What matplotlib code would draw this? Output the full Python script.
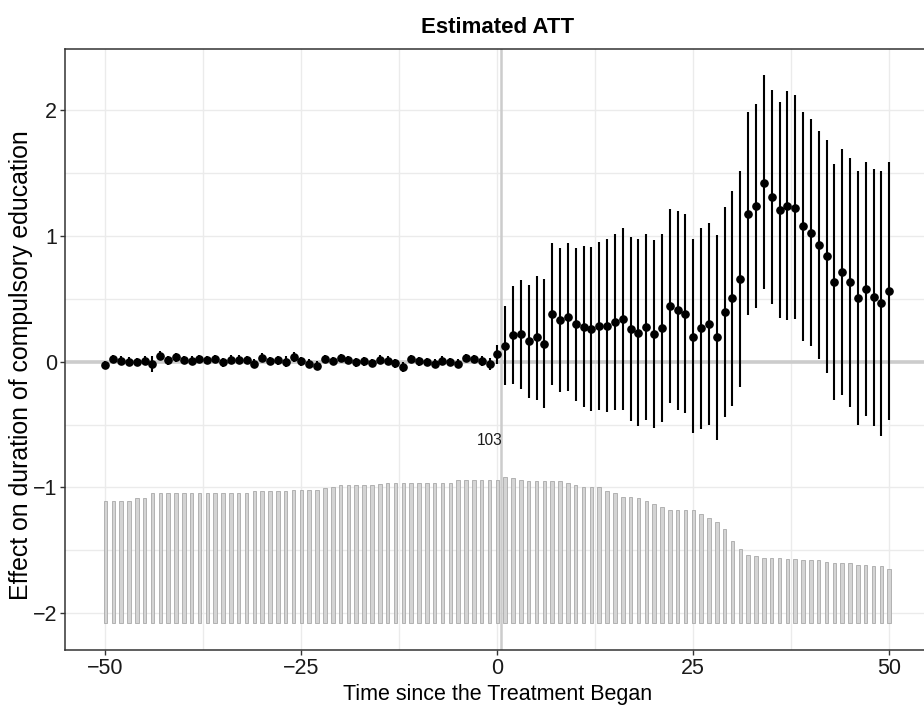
import numpy as np
import matplotlib.pyplot as plt

plt.rcParams['font.family'] = ['Liberation Sans', 'DejaVu Sans']

# time relative to treatment
time = np.arange(-50, 51)

att = [-0.027, 0.021, 0.008, 0.0, -0.003, 0.008, -0.019, 0.048, 0.011, 0.034,
       0.013, 0.008, 0.021, 0.013, 0.021, -0.005, 0.016, 0.016, 0.013, -0.016,
       0.032, 0.005, 0.011, 0.0, 0.037, 0.003, -0.016, -0.032, 0.021, 0.005,
       0.029, 0.013, -0.005, 0.003, -0.011, 0.016, 0.008, -0.013, -0.045, 0.021,
       0.003, -0.003, -0.016, 0.008, -0.003, -0.016, 0.029, 0.021, 0.003, -0.019,
       0.058,
       0.127, 0.21, 0.217, 0.167, 0.193, 0.143, 0.379, 0.334, 0.355, 0.297,
       0.278, 0.26, 0.284, 0.284, 0.313, 0.342, 0.26, 0.228, 0.273, 0.22,
       0.268, 0.44, 0.411, 0.382, 0.199, 0.265, 0.302, 0.193, 0.395, 0.504,
       0.66, 1.177, 1.236, 1.424, 1.31, 1.207, 1.241, 1.225, 1.077, 1.026,
       0.926, 0.838, 0.634, 0.713, 0.634, 0.504, 0.575, 0.512, 0.467, 0.562]

ci_hi = [0.008, 0.056, 0.043, 0.035, 0.032, 0.043, 0.041, 0.083, 0.046, 0.069,
         0.048, 0.043, 0.056, 0.048, 0.056, 0.030, 0.051, 0.051, 0.048, 0.022,
         0.067, 0.040, 0.046, 0.045, 0.077, 0.038, 0.019, 0.003, 0.056, 0.040,
         0.064, 0.048, 0.030, 0.038, 0.024, 0.051, 0.043, 0.022, -0.005, 0.056,
         0.038, 0.032, 0.019, 0.043, 0.032, 0.019, 0.064, 0.056, 0.043, 0.031,
         0.135,
         0.44, 0.60, 0.65, 0.613, 0.682, 0.658, 0.941, 0.907, 0.947, 0.907,
         0.917, 0.915, 0.952, 0.976, 1.016, 1.061, 0.989, 0.971, 1.013, 0.968,
         1.016, 1.215, 1.201, 1.172, 0.971, 1.063, 1.103, 1.01, 1.228, 1.36,
         1.519, 1.984, 2.05, 2.275, 2.156, 2.066, 2.148, 2.116, 1.984, 1.925,
         1.83, 1.758, 1.572, 1.687, 1.62, 1.512, 1.586, 1.533, 1.519, 1.589]

ci_lo = [-0.062, -0.014, -0.027, -0.035, -0.038, -0.027, -0.079, 0.013, -0.024, -0.001,
         -0.022, -0.027, -0.014, -0.022, -0.014, -0.040, -0.019, -0.019, -0.022, -0.054,
         -0.003, -0.030, -0.024, -0.045, -0.003, -0.032, -0.051, -0.067, -0.014, -0.030,
         -0.006, -0.022, -0.040, -0.032, -0.046, -0.019, -0.027, -0.048, -0.085, -0.014,
         -0.032, -0.038, -0.051, -0.027, -0.038, -0.051, -0.006, -0.014, -0.037, -0.069,
         -0.020,
         -0.188, -0.178, -0.215, -0.289, -0.302, -0.371, -0.183, -0.241, -0.236, -0.313,
         -0.363, -0.393, -0.387, -0.403, -0.385, -0.385, -0.469, -0.514, -0.461, -0.53,
         -0.48, -0.329, -0.382, -0.406, -0.567, -0.533, -0.501, -0.62, -0.438, -0.353,
         -0.202, 0.369, 0.424, 0.575, 0.456, 0.345, 0.332, 0.337, 0.162, 0.122,
         0.019, -0.088, -0.308, -0.263, -0.358, -0.504, -0.435, -0.509, -0.589, -0.467]

# number of treated units at each relative time
count = [86, 86, 86, 86, 88, 88, 92, 92, 92, 92,
         92, 92, 92, 92, 92, 92, 92, 92, 92, 93,
         93, 93, 93, 93, 94, 94, 94, 94, 95, 96,
         97, 97, 97, 97, 97, 98, 99, 99, 99, 99,
         99, 99, 99, 99, 99, 101, 101, 101, 101, 101,
         101,
         103, 102, 101, 100, 100, 100, 100, 100, 99, 97,
         96, 96, 96, 93, 92, 89, 89, 88, 86, 84,
         82, 80, 80, 80, 80, 77, 74, 71, 66, 58,
         52, 48, 47, 46, 46, 46, 45, 45, 44, 44,
         44, 43, 42, 42, 42, 41, 41, 40, 40, 38]

att = np.array(att)
ci_lo = np.array(ci_lo)
ci_hi = np.array(ci_hi)
count = np.array(count)

fig = plt.figure(figsize=(9.24, 7.11), dpi=100)
ax = fig.add_axes([0.0700, 0.0858, 0.9365, 0.8449])

# count histogram at the bottom
bar_base = -2.075
bar_h = 1.158 / count.max()
ax.bar(time, count * bar_h, bottom=bar_base, width=0.45,
       color='#d4d4d4', edgecolor='#a9a9a9', linewidth=0.6, zorder=2)
imax = np.argmax(count)
ax.text(time[imax] - 2, -0.63, str(count[imax]), ha='center', va='center',
        fontsize=11.2, color='#1a1a1a', zorder=5)

ax.axhline(0, color='#cccccc', lw=2.6, zorder=1.5)
ax.axvline(0.5, color='#cccccc', lw=1.8, zorder=1.5)

ax.vlines(time, ci_lo, ci_hi, color='black', lw=1.5, zorder=3)
ax.plot(time, att, 'o', color='black', ms=5.2, zorder=4)

ax.set_xlim(-55.2, 55.2)
ax.set_ylim(-2.292, 2.483)
ax.set_xticks([-50, -25, 0, 25, 50])
ax.set_xticks([-37.5, -12.5, 12.5, 37.5], minor=True)
ax.set_yticks([-2, -1, 0, 1, 2])
ax.set_yticks([-1.5, -0.5, 0.5, 1.5], minor=True)
ax.grid(True, which='both', color='#ebebeb', lw=1.0, zorder=0)
ax.set_axisbelow(True)
ax.tick_params(which='major', length=3.5, width=1.0, color='#333333',
               labelsize=15.5, labelcolor='#1a1a1a', pad=2)
ax.tick_params(which='minor', length=0)
for s in ax.spines.values():
    s.set_color('#333333')
    s.set_linewidth(1.1)

ax.set_xlabel('Time since the Treatment Began', fontsize=15.5, labelpad=4)
ax.set_ylabel('Effect on duration of compulsory education', fontsize=17.9)
ax.yaxis.set_label_coords(-0.037, 0.4736)
ax.set_title('Estimated ATT', fontsize=16, fontweight='bold', pad=12)

fig.savefig('out.png', dpi=100)
